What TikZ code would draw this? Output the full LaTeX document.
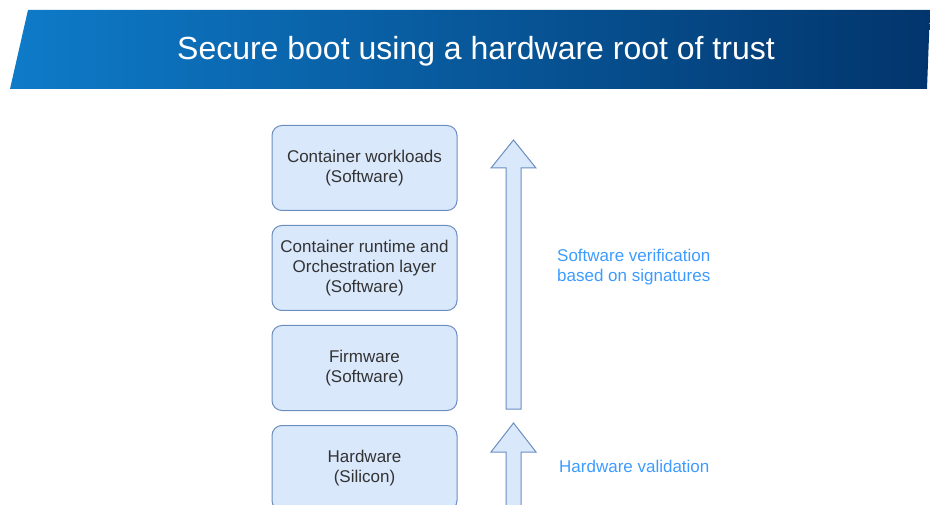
\documentclass[tikz,border=0pt]{standalone}
\usepackage{fontspec}
\setmainfont{Liberation Sans}
\usetikzlibrary{positioning}
\definecolor{bannerL}{HTML}{0E7BC9}
\definecolor{bannerR}{HTML}{02356C}
\definecolor{layerfill}{HTML}{DAE8FC}
\definecolor{layerdraw}{HTML}{6C8EBF}
\definecolor{layertext}{HTML}{333333}
\definecolor{notetext}{HTML}{3D9BFF}

\begin{document}
\begin{tikzpicture}[x=1pt, y=-1pt,
    layer/.style={draw=layerdraw, fill=layerfill, rounded corners=10pt, line width=1pt,
      minimum width=185pt, minimum height=85pt, align=center, text=layertext,
      font=\fontsize{17}{20}\selectfont, inner sep=0pt},
    note/.style={text=notetext, align=left, anchor=west, inner sep=0pt,
      font=\fontsize{17}{20}\selectfont},
    blockarrow/.style={draw=layerdraw, fill=layerfill, line width=1pt, line join=miter}]
    \useasboundingbox (0,0) rectangle (930,505);
    \clip (0,0) rectangle (930,505);
    % banner
    \shade[left color=bannerL, right color=bannerR]
      (28,10) -- (930,10) -- (927,89) -- (10,89) -- cycle;
    \node[text=white, font=\fontsize{32}{36}\selectfont] (title) at (476,51)
      {Secure boot using a hardware root of trust};
    % layer stack
    \node[layer] (work) at (364.5,168) {Container workloads\\(Software)};
    \node[layer, below=14pt of work] (orch) {Container runtime and\\Orchestration layer\\(Software)};
    \node[layer, below=14pt of orch] (fw) {Firmware\\(Software)};
    \node[layer, below=14pt of fw] (hw) {Hardware\\(Silicon)};
    % block arrows
    \coordinate (swtip) at (513.5,140);
    \coordinate (hwtip) at (513.5,423);
    \draw[blockarrow] (swtip) -- (536,168) -- (521,168) -- (521,409)
      -- (506,409) -- (506,168) -- (491,168) -- cycle;
    \draw[blockarrow] (hwtip) -- (536,452) -- (521,452) -- (521,530)
      -- (506,530) -- (506,452) -- (491,452) -- cycle;
    % labels
    \node[note] (swnote) at (557,267.5) {Software verification\\based on signatures};
    \node[note] (hwnote) at (559,466) {Hardware validation};
  \end{tikzpicture}
\end{document}
